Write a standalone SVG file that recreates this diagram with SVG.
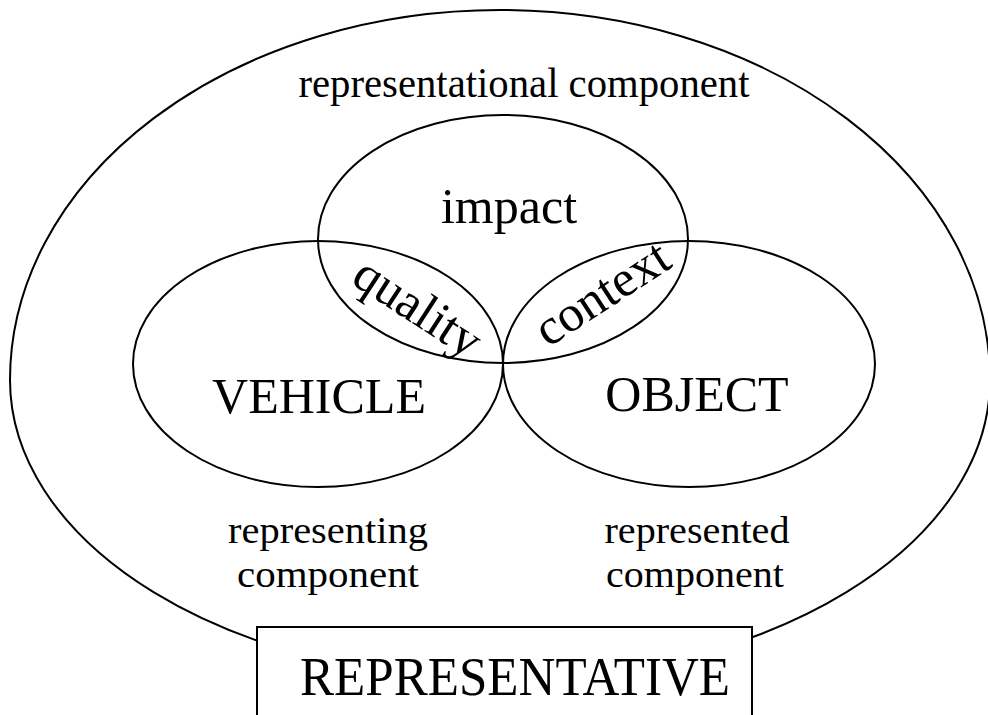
<svg xmlns="http://www.w3.org/2000/svg" width="988" height="715" viewBox="0 0 988 715">
<style>
.ln{fill:none;stroke:#000;stroke-width:2}
.t{font-family:"Liberation Serif","Times New Roman",serif;fill:#000;text-anchor:middle}
.sub{font-size:38px}
</style>
<rect width="988" height="715" fill="#fff"/>
<g id="representational-component">
<path class="ln" d="M 10,380 A 490 370 0 0 1 990,380 A 490 300 0 0 1 10,380 Z"/>
<text class="t" x="524" y="97" font-size="42" textLength="451" lengthAdjust="spacingAndGlyphs">representational component</text>
</g>
<g id="impact">
<ellipse class="ln" cx="503" cy="239" rx="185" ry="124"/>
<text class="t" x="509" y="223" font-size="50">impact</text>
</g>
<g id="vehicle">
<ellipse class="ln" cx="318" cy="364" rx="185" ry="123"/>
<text class="t" x="319" y="413" font-size="50">VEHICLE</text>
</g>
<g id="object">
<ellipse class="ln" cx="689" cy="364" rx="186" ry="123"/>
<text class="t" x="697" y="411" font-size="50">OBJECT</text>
</g>
<g id="quality">
<text class="t" font-size="51" transform="translate(409,321) rotate(33)">quality</text>
</g>
<g id="context">
<text class="t" font-size="51" transform="translate(611,307) rotate(-33)">context</text>
</g>
<g id="representing-component">
<text class="t sub" x="328" y="543" textLength="200" lengthAdjust="spacingAndGlyphs">representing</text>
<text class="t sub" x="328" y="587" textLength="182" lengthAdjust="spacingAndGlyphs">component</text>
</g>
<g id="represented-component">
<text class="t sub" x="697" y="543" textLength="185" lengthAdjust="spacingAndGlyphs">represented</text>
<text class="t sub" x="695" y="587" textLength="178" lengthAdjust="spacingAndGlyphs">component</text>
</g>
<g id="representative">
<rect x="257" y="627" width="495" height="110" fill="#fff" stroke="#000" stroke-width="2"/>
<text class="t" x="515" y="695" font-size="54" textLength="430" lengthAdjust="spacingAndGlyphs">REPRESENTATIVE</text>
</g>
</svg>
